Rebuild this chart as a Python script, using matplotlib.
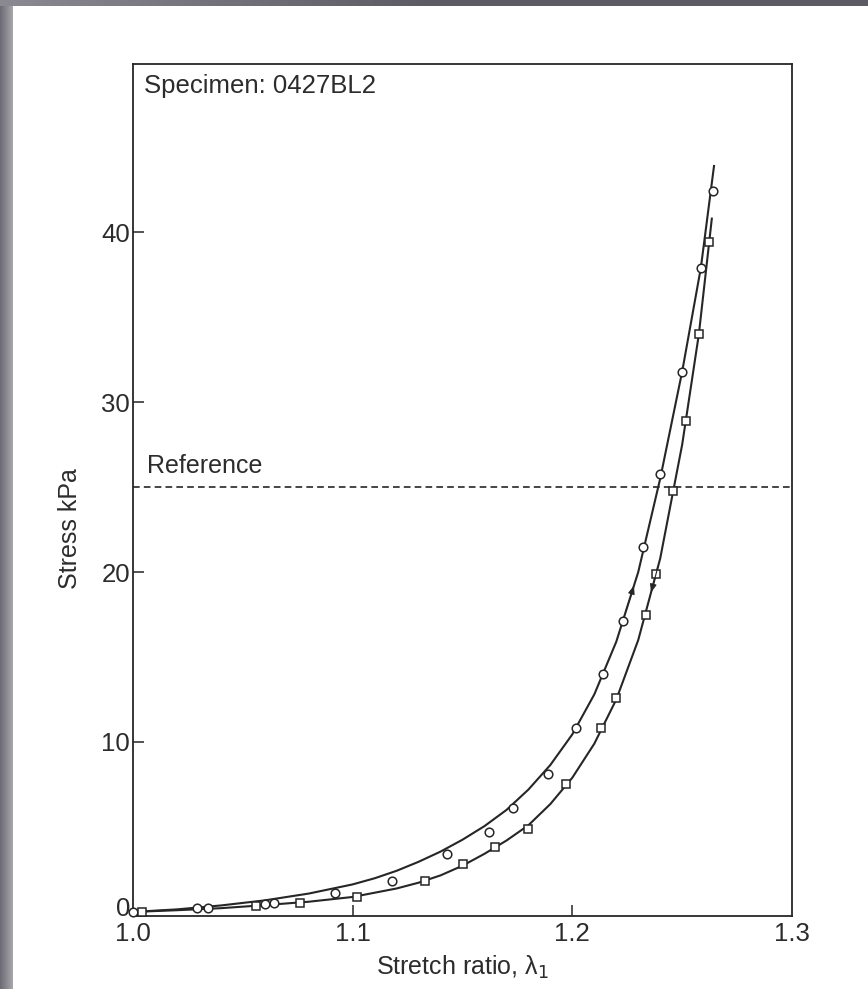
import numpy as np
import matplotlib
matplotlib.use("Agg")
import matplotlib.pyplot as plt
import matplotlib.transforms as mtransforms

plt.rcParams['font.family'] = ['Liberation Sans', 'DejaVu Sans']

# --- data ---
load_x = [1.0, 1.029, 1.034, 1.060, 1.064, 1.092, 1.118, 1.143, 1.162, 1.173,
          1.189, 1.2016, 1.214, 1.223, 1.232, 1.240, 1.250, 1.2585, 1.264]
load_y = [0.0, 0.24, 0.24, 0.45, 0.53, 1.1, 1.8, 3.4, 4.7, 6.1,
          8.1, 10.8, 14.0, 17.1, 21.5, 25.8, 31.8, 37.9, 42.4]

unload_x = [1.004, 1.056, 1.076, 1.102, 1.133, 1.150, 1.165, 1.180, 1.197,
            1.213, 1.220, 1.2335, 1.238, 1.246, 1.2517, 1.2576, 1.262]
unload_y = [0.0, 0.35, 0.53, 0.9, 1.8, 2.8, 3.8, 4.9, 7.5,
            10.8, 12.6, 17.5, 19.9, 24.8, 28.9, 34.0, 39.4]

fit_load_x = [1.0, 1.02, 1.04, 1.06, 1.08, 1.10, 1.11, 1.12, 1.13, 1.14, 1.15,
              1.16, 1.17, 1.18, 1.19, 1.20, 1.21, 1.22, 1.23, 1.24, 1.25,
              1.2585, 1.2645]
fit_load_y = [0.0, 0.15, 0.38, 0.68, 1.08, 1.62, 1.98, 2.42, 2.95, 3.55, 4.25,
              5.05, 6.0, 7.2, 8.65, 10.45, 12.8, 15.9, 20.0, 25.5, 31.8,
              37.9, 43.9]

fit_unload_x = [1.0, 1.02, 1.04, 1.06, 1.08, 1.10, 1.12, 1.13, 1.14, 1.15,
                1.16, 1.17, 1.18, 1.19, 1.20, 1.21, 1.22, 1.23, 1.24, 1.25,
                1.2576, 1.2635]
fit_unload_y = [0.0, 0.10, 0.22, 0.40, 0.60, 0.88, 1.38, 1.72, 2.15, 2.72,
                3.42, 4.2, 5.1, 6.35, 7.9, 9.9, 12.5, 16.0, 20.8, 27.5,
                34.0, 40.8]

reference_stress = 25.0
x_ticks = [1.0, 1.1, 1.2, 1.3]
x_tick_labels = ["1.0", "1.1", "1.2", "1.3"]
y_ticks = [0, 10, 20, 30, 40]
y_tick_labels = ["0", "10", "20", "30", "40"]
arrow_stress = 19.2

ink = "#262626"
txt = "#2c2c2c"

W, H = 868, 989
fig = plt.figure(figsize=(W / 100, H / 100), dpi=100)
fig.patch.set_facecolor("white")

# slide background frame (left gradient strip and top bar)
strip = fig.add_axes([0, 0, 13 / W, 1])
grad = np.linspace(0, 1, 50).reshape(1, -1)
strip.imshow(grad, aspect="auto", cmap=matplotlib.colors.LinearSegmentedColormap.from_list(
    "g", ["#6c6a72", "#a9a7ae"]), extent=[0, 1, 0, 1])
strip.set_axis_off()
top = fig.add_axes([0, 1 - 6 / H, 1, 6 / H])
tg = np.linspace(0, 1, 100).reshape(1, -1)
top.imshow(tg, aspect="auto", cmap=matplotlib.colors.LinearSegmentedColormap.from_list(
    "t", ["#8a8890", "#5c5a62", "#5c5a62"]), extent=[0, 1, 0, 1])
top.set_axis_off()

ax = fig.add_axes([133 / W, 1 - 916 / H, (792 - 133) / W, (916 - 64) / H])
ax.set_xlim(1.0, 1.3)
ax.set_ylim(-0.24, 49.9)

ax.plot(fit_load_x, fit_load_y, color=ink, lw=1.5, zorder=2, clip_on=False,
        solid_joinstyle="round")
ax.plot(fit_unload_x, fit_unload_y, color=ink, lw=1.5, zorder=2, clip_on=False,
        solid_joinstyle="round")

ax.plot(load_x, load_y, linestyle="none", marker="o", ms=6.2, mfc="white",
        mec=ink, mew=1.1, zorder=3, clip_on=False)
ax.plot(unload_x, unload_y, linestyle="none", marker="s", ms=6.0, mfc="white",
        mec=ink, mew=1.1, zorder=3, clip_on=False)

# direction arrows on curves
xa = np.interp(arrow_stress, fit_load_y, fit_load_x)
xa0 = np.interp(arrow_stress - 1.5, fit_load_y, fit_load_x)
ax.annotate("", xy=(xa, arrow_stress), xytext=(xa0, arrow_stress - 1.5),
            arrowprops=dict(arrowstyle="-|>,head_length=0.5,head_width=0.2",
                            color=ink, lw=0.8, shrinkA=0, shrinkB=0))
xb = np.interp(arrow_stress - 0.4, fit_unload_y, fit_unload_x)
xb0 = np.interp(arrow_stress + 1.1, fit_unload_y, fit_unload_x)
ax.annotate("", xy=(xb, arrow_stress - 0.4), xytext=(xb0, arrow_stress + 1.1),
            arrowprops=dict(arrowstyle="-|>,head_length=0.5,head_width=0.2",
                            color=ink, lw=0.8, shrinkA=0, shrinkB=0))

ax.axhline(reference_stress, color=ink, lw=1.2, ls=(0, (4, 2.5)), zorder=1)
ax.text(1.0065, reference_stress + 0.55, "Reference", fontsize=18, color=txt,
        va="bottom", ha="left")
ax.text(0.016, 0.988, "Specimen: 0427BL2", transform=ax.transAxes, fontsize=18.5,
        color=txt, va="top", ha="left")

ax.set_xticks(x_ticks)
ax.set_xticklabels(x_tick_labels)
ax.set_yticks(y_ticks)
ax.set_yticklabels(y_tick_labels)
ax.tick_params(direction="in", length=8, width=1.1, colors=ink, labelsize=18.5,
               labelcolor=txt)
ax.tick_params(axis="x", pad=4)
ax.tick_params(axis="y", pad=2)
for t in ax.xaxis.get_major_ticks():
    if t.get_loc() in (1.0, 1.3):
        t.tick1line.set_visible(False)
for t in ax.yaxis.get_major_ticks():
    if t.get_loc() == 0:
        t.tick1line.set_visible(False)
        lab = t.label1
        lab.set_transform(lab.get_transform() +
                          mtransforms.ScaledTranslation(0, 5 / 100, fig.dpi_scale_trans))

for s in ax.spines.values():
    s.set_color(ink)
    s.set_linewidth(1.3)

ax.set_xlabel("Stretch ratio, λ$_1$", fontsize=18, color=txt, labelpad=6)
ax.set_ylabel("Stress kPa", fontsize=18, color=txt)
ax.yaxis.set_label_coords(-0.077, 0.455)

fig.savefig("out.png", dpi=100, facecolor="white")
